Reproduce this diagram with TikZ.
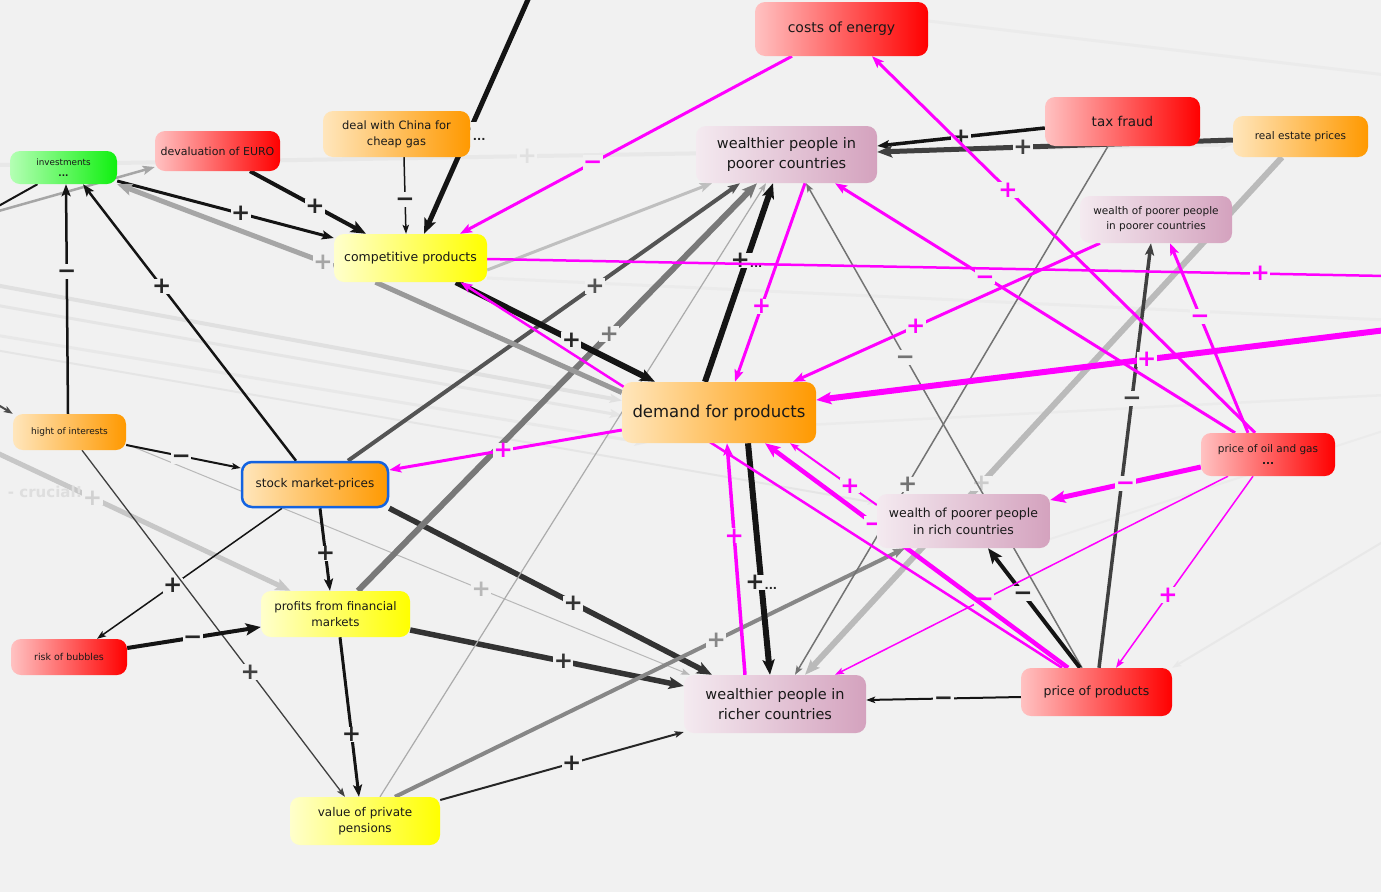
\documentclass[tikz,border=0pt]{standalone}
\usepackage{fontspec}
\setmainfont{DejaVu Sans}
\usetikzlibrary{arrows.meta,calc}
\definecolor{bgc}{HTML}{F1F1F1}
\definecolor{mag}{HTML}{FF00FF}
\definecolor{rL}{HTML}{FFC2C2}
\definecolor{rR}{HTML}{FF0000}
\definecolor{oL}{HTML}{FFE6BC}
\definecolor{oR}{HTML}{FF9900}
\definecolor{yL}{HTML}{FFFFCC}
\definecolor{yR}{HTML}{FFFF00}
\definecolor{mL}{HTML}{F4EAF0}
\definecolor{mR}{HTML}{D4A2BE}
\definecolor{gL}{HTML}{B4FFB4}
\definecolor{gR}{HTML}{10F010}
\definecolor{bluB}{HTML}{1463E0}
\pgfdeclarelayer{bgl}
\pgfdeclarelayer{edges}
\pgfsetlayers{bgl,edges,main}
\newcommand{\fs}[2]{\fontsize{#1}{#2}\selectfont}
\newcommand{\lbf}{\fontsize{23}{23}\selectfont\bfseries}
\newcommand{\pl}{+}
\newcommand{\mn}{\vphantom{+}−}
\tikzset{
  sz/.style 2 args={minimum width=#1pt,minimum height=#2pt},
  nb/.style={rounded corners=10pt, inner sep=2pt, align=center, text=black!90},
  redn/.style={nb, left color=rL, right color=rR},
  orn/.style={nb, left color=oL, right color=oR},
  yln/.style={nb, left color=yL, right color=yR},
  mvn/.style={nb, left color=mL, right color=mR},
  grn/.style={nb, left color=gL, right color=gR},
  tA/.style={-{Stealth[length=9pt,width=6.5pt,inset=2pt]}},
  mA/.style={-{Stealth[length=12pt,width=9pt,inset=2.5pt]}},
  bA/.style={-{Stealth[length=15pt,width=12pt,inset=3pt]}},
  lb/.style={fill=bgc, inner sep=0.4pt, font=\lbf, text=#1},
  lb/.default=black!85,
  bk/.style={draw=black!92},
  mg/.style={draw=mag},
  fnt/.style={draw=black!#1},
}
\begin{document}
\begin{tikzpicture}[x=1pt,y=-1pt]
\begin{pgfonlayer}{bgl}
\fill[bgc] (0,0) rectangle (1381,892);
\end{pgfonlayer}
\useasboundingbox (0,0) rectangle (1381,892);

% nodes
\node[redn, sz={173}{54}, font=\fs{14}{18}] (energy) at (841.5,29) {costs of energy};
\node[redn, sz={155}{49}, font=\fs{13.5}{17}] (tax) at (1122.5,121.5) {tax fraud};
\node[orn, sz={135}{41}, font=\fs{10.5}{13}] (realestate) at (1300.5,136.5) {real estate prices};
\node[mvn, sz={181}{57}, font=\fs{14.5}{20}] (wpp) at (786.5,154.5) {wealthier people in\\poorer countries};
\node[mvn, sz={152}{47}, font=\fs{10.5}{15}] (wppp) at (1156,219.5) {wealth of poorer people\\in poorer countries};
\node[grn, sz={107}{33}, font=\fs{8.8}{11}] (inv) at (63.5,167.5) {investments\\\textbf{...}};
\node[redn, sz={125}{40}, font=\fs{11}{14}] (euro) at (217.5,151) {devaluation of EURO};
\node[orn, sz={147}{46}, font=\fs{11.5}{16}] (china) at (396.5,134) {deal with China for\\cheap gas};
\node[yln, sz={153}{48}, font=\fs{12.5}{16}] (comp) at (410.5,258) {competitive products};
\node[orn, sz={194}{61}, font=\fs{16.5}{20}] (demand) at (719,412.5) {demand for products};
\node[orn, sz={113}{36}, font=\fs{9}{12}] (interest) at (69.5,432) {hight of interests};
\node[orn, sz={146}{45}, font=\fs{12}{15}, draw=bluB, line width=2.5pt] (stock) at (315,484.5) {stock market-prices};
\node[yln, sz={149}{46}, font=\fs{11.8}{16}] (profits) at (335.5,614) {profits from financial\\markets};
\node[redn, sz={116}{36}, font=\fs{9.5}{12}] (bubbles) at (69,657) {risk of bubbles};
\node[yln, sz={150}{48}, font=\fs{12}{16}] (pensions) at (365,821) {value of private\\pensions};
\node[mvn, sz={182}{58}, font=\fs{14.5}{20}] (wrc) at (775,704) {wealthier people in\\richer countries};
\node[mvn, sz={173}{54}, font=\fs{12.5}{17}] (wprc) at (963.5,521) {wealth of poorer people\\in rich countries};
\node[redn, sz={134}{43}, font=\fs{10.5}{12}] (oil) at (1268,454.5) {price of oil and gas\\\textbf{...}};
\node[redn, sz={151}{48}, font=\fs{12.5}{16}] (pprod) at (1096.5,692) {price of products};

% free ends
\coordinate (offTop) at (530,-5);
\coordinate (offR1) at (1386,276);
\coordinate (offR2) at (1386,330);
\coordinate (offL1) at (-5,208);
\coordinate (offL2) at (-5,212);
\coordinate (offL3) at (-5,403);
\coordinate (offL4) at (-5,452);
\coordinate (fA) at (-5,285);
\coordinate (fB) at (-5,305);
\coordinate (fC) at (-5,335);
\coordinate (fD) at (-5,165);
\coordinate (fE) at (1386,75);
\coordinate (fF) at (1386,395);
\coordinate (fG) at (1386,540);
\coordinate (fH) at (1386,430);
\coordinate (fI) at (1386,320);
\coordinate (fJ) at (-5,350);

\begin{pgfonlayer}{edges}
% faint background connectors
\draw[fnt=12, line width=4pt, mA] (fA) -- ($(demand.west)+(0,-12)$);
\draw[fnt=10, line width=3pt, mA] (fB) -- ($(demand.west)+(0,3)$);
\draw[fnt=9, line width=3pt, mA] (fC) -- ($(demand.south west)+(25,0)$);
\draw[fnt=9, line width=4pt, mA] (fD) -- node[lb=black!12, pos=0.43]{\pl} ($(realestate.west)+(0,8)$);
\draw[fnt=8, line width=3pt] ($(energy.east)+(0,-8)$) -- (fE);
\draw[fnt=8, line width=2.5pt] ($(demand.east)+(0,12)$) -- (fF);
\draw[fnt=9, line width=2pt, tA] (fG) -- (pprod.north east);
\draw[fnt=8, line width=2pt] ($(wprc.east)+(0,18)$) -- (fH);
\draw[fnt=8, line width=3pt] ($(comp.east)+(0,20)$) -- (fI);
\draw[fnt=10, line width=2pt, tA] (fJ) -- ($(wprc.west)+(0,-18)$);

% left side
\draw[bk, line width=2pt] (offL1) -- ($(inv.south)+(-26,0)$);
\draw[draw=black!35, line width=2.5pt, mA] (offL2) -- ($(euro.west)+(0,16)$);
\draw[draw=black!70, line width=2pt, tA] (offL3) -- (interest.north west);
\draw[draw=black!22, line width=5pt, bA] (offL4) -- node[lb=black!18,pos=0.33]{\pl}
   node[pos=0.17, below=5pt, text=black!13, font=\fs{15}{15}\bfseries]{- crucial!} ($(profits.north)+(-45,0)$);
\draw[draw=black!28, line width=1pt, tA] ($(interest.east)+(0,12)$) -- node[lb=black!28,pos=0.63]{\pl} ($(wrc.north west)+(6,0)$);

% dark connectors
\draw[bk, line width=5pt, bA] (offTop) -- node[lb,pos=0.57]{\mn\raisebox{-4pt}{\fs{11}{11}...}} ($(comp.north)+(13.5,0)$);
\draw[bk, line width=1.5pt, tA] ($(china.south)+(7.5,0)$) -- node[lb,pos=0.55]{\mn} ($(comp.north)+(-4.5,0)$);
\draw[bk, line width=4pt, bA] ($(euro.south)+(32.5,0)$) -- node[lb,pos=0.56]{\pl} ($(comp.north)+(-44.5,0)$);
\draw[bk, line width=3pt, mA] ($(inv.east)+(0,13.5)$) -- node[lb,pos=0.57]{\pl} ($(comp.west)+(0,-20)$);
\draw[draw=black!35, line width=5pt, bA] ($(comp.west)+(0,8)$) -- node[lb=black!35,pos=0.05]{\pl} (inv.south east);
\draw[bk, line width=2.5pt, mA] ($(interest.north)+(-1.5,0)$) -- node[lb,pos=0.62]{\mn} ($(inv.south)+(2.5,0)$);
\draw[bk, line width=2.5pt, mA] ($(stock.north)+(-19,0)$) -- node[lb,pos=0.63]{\pl} ($(inv.south)+(19.5,0)$);
\draw[bk, line width=2pt, tA] ($(interest.east)+(0,13)$) -- node[lb,pos=0.48]{\mn} ($(stock.west)+(0,-16.5)$);
\draw[bk, line width=3pt, mA] ($(stock.south)+(5,0)$) -- node[lb,pos=0.55]{\pl} ($(profits.north)+(-5.5,0)$);
\draw[bk, line width=1.5pt, tA] ($(stock.south)+(-33,0)$) -- node[lb,pos=0.59]{\pl} ($(bubbles.north)+(28,0)$);
\draw[draw=black!75, line width=1.3pt, tA] ($(interest.south)+(12.5,0)$) -- node[lb=black!75,pos=0.64]{\pl} ($(pensions.north)+(-20,0)$);
\draw[bk, line width=4pt, bA] ($(bubbles.east)+(0,-9)$) -- node[lb,pos=0.49]{\mn} ($(profits.west)+(0,13)$);
\draw[bk, line width=3pt, mA] ($(profits.south)+(4.5,0)$) -- node[lb,pos=0.61]{\pl} ($(pensions.north)+(-6,0)$);
\draw[draw=black!80, line width=5.5pt, bA] ($(profits.east)+(0,16)$) -- node[lb=black!80,pos=0.56]{\pl} ($(wrc.west)+(0,-18)$);
\draw[draw=black!80, line width=5.5pt, bA] (stock.south east) -- node[lb=black!80,pos=0.57]{\pl} ($(wrc.north)+(-63,0)$);
\draw[draw=black!85, line width=2pt, tA] ($(pensions.east)+(0,-21)$) -- node[lb,pos=0.54]{\pl} ($(wrc.west)+(0,28)$);
\draw[draw=black!47, line width=4pt, mA] ($(pensions.north)+(30,0)$) -- node[lb=black!47,pos=0.63]{\pl} ($(wprc.south)+(-58.5,0)$);
\draw[draw=black!33, line width=1.2pt, tA] ($(pensions.north)+(15,0)$) -- ($(wpp.south)+(-20.5,0)$);
\draw[draw=black!25, line width=3pt, mA] ($(comp.east)+(0,12)$) -- ($(wpp.south)+(-74.5,0)$);
\draw[draw=black!67, line width=4pt, mA] ($(stock.north)+(33,0)$) -- node[lb=black!67,pos=0.63]{\pl} ($(wpp.south)+(-46.5,0)$);
\draw[draw=black!53, line width=6pt, bA] ($(profits.north)+(22.5,0)$) -- node[lb=black!53,pos=0.63]{\pl} ($(wpp.south)+(-29.5,0)$);
\draw[draw=black!40, line width=5pt] ($(comp.south)+(-35,0)$) -- ($(demand.west)+(0,-20)$);
\draw[bk, line width=6pt, bA] ($(comp.south)+(45.5,0)$) -- node[lb,pos=0.58]{\pl} ($(demand.north)+(-64,0)$);
\draw[bk, line width=6pt, bA] ($(demand.north)+(-14,0)$) -- node[lb,pos=0.61]{\pl\fs{11}{11}...} ($(wpp.south)+(-13.5,0)$);
\draw[bk, line width=3.5pt, mA] ($(tax.west)+(0,6.5)$) -- node[lb,pos=0.5]{\pl} ($(wpp.east)+(0,-8.5)$);
\draw[draw=black!75, line width=5pt, bA] ($(realestate.west)+(0,3.5)$) -- node[lb=black!75,pos=0.59]{\pl} ($(wpp.east)+(0,-2.5)$);
\draw[draw=black!27, line width=6pt, bA] ($(realestate.south)+(-18.5,0)$) -- node[lb=black!20,pos=0.63]{\pl} ($(wrc.north)+(30,0)$);
\draw[draw=black!55, line width=1.5pt, tA] ($(tax.south)+(-14.5,0)$) -- node[lb=black!55,pos=0.64]{\pl} ($(wrc.north)+(20,0)$);
\draw[draw=black!55, line width=1.5pt, tA] ($(pprod.north)+(-14.5,0)$) -- node[lb=black!55,pos=0.64]{\mn} ($(wpp.south)+(19.5,0)$);
\draw[draw=black!75, line width=3.5pt, mA] ($(pprod.north)+(2.5,0)$) -- node[lb=black!75,pos=0.635]{\mn} ($(wppp.south)+(-5,0)$);
\draw[bk, line width=4pt, bA] ($(pprod.north)+(-16.5,0)$) -- node[lb,pos=0.62]{\mn} ($(wprc.south)+(24.5,0)$);
\draw[bk, line width=2pt, tA] ($(pprod.west)+(0,5)$) -- node[lb,pos=0.5]{\mn} ($(wrc.east)+(0,-4)$);
\draw[bk, line width=6pt, bA] ($(demand.south)+(29,0)$) -- node[lb,pos=0.6]{\pl\fs{11}{11}...} ($(wrc.north)+(-5,0)$);

% magenta connectors
\draw[mg, line width=3pt, mA] ($(energy.south)+(-49.5,0)$) -- node[lb=mag,pos=0.6]{\mn} ($(comp.north)+(49.5,0)$);
\draw[mg, line width=3pt, mA] ($(oil.north)+(-13,0)$) -- node[lb=mag,pos=0.645]{\pl} ($(energy.south)+(30.5,0)$);
\draw[mg, line width=3pt, mA] ($(oil.north)+(-20,0)$) -- node[lb=mag,pos=0.615]{\mn} ($(wppp.south)+(14,0)$);
\draw[mg, line width=3pt, mA] ($(oil.north)+(-33,0)$) -- node[lb=mag,pos=0.625]{\mn} ($(wpp.south)+(48.5,0)$);
\draw[mg, line width=5pt, bA] ($(oil.west)+(0,12.5)$) -- node[lb=mag,pos=0.5]{\mn} ($(wprc.east)+(0,-21)$);
\draw[mg, line width=1.5pt, tA] ($(oil.south)+(-15,0)$) -- node[lb=mag,pos=0.62]{\pl} ($(pprod.north)+(19.5,0)$);
\draw[mg, line width=1.5pt, tA] ($(oil.south)+(-40,0)$) -- node[lb=mag,pos=0.62]{\mn} ($(wrc.north)+(60,0)$);
\draw[mg, line width=2.5pt] ($(comp.east)+(0,1)$) -- node[lb=mag,pos=0.86]{\pl} (offR1);
\draw[mg, line width=6pt, bA] (offR2) -- node[lb=mag,pos=0.42]{\pl} ($(demand.east)+(0,-12.5)$);
\draw[mg, line width=3pt, mA] ($(wppp.south)+(-56,0)$) -- node[lb=mag,pos=0.6]{\pl} ($(demand.north)+(74,0)$);
\draw[mg, line width=3pt, mA] ($(demand.west)+(0,17.5)$) -- node[lb=mag,pos=0.51]{\pl} ($(stock.east)+(0,-14.5)$);
\draw[mg, line width=3pt, mA] ($(wpp.south)+(18.5,0)$) -- node[lb=mag,pos=0.62]{\pl} ($(demand.north)+(16,0)$);
\draw[mg, line width=3.5pt, mA] ($(wrc.north)+(-30,0)$) -- node[lb=mag,pos=0.6]{\pl} ($(demand.south)+(8,0)$);
\draw[mg, line width=2pt, tA] ($(wprc.west)+(0,-16)$) -- node[lb=mag,pos=0.31]{\pl} ($(demand.south)+(71,0)$);
\draw[mg, line width=4.5pt, bA] ($(pprod.north)+(-28.5,0)$) -- node[lb=mag,pos=0.64]{\mn} ($(demand.south)+(46,0)$);
\draw[mg, line width=2.5pt, mA] ($(pprod.north)+(-34.5,0)$) -- ($(comp.south)+(50,0)$);
\end{pgfonlayer}
\end{tikzpicture}
\end{document}
